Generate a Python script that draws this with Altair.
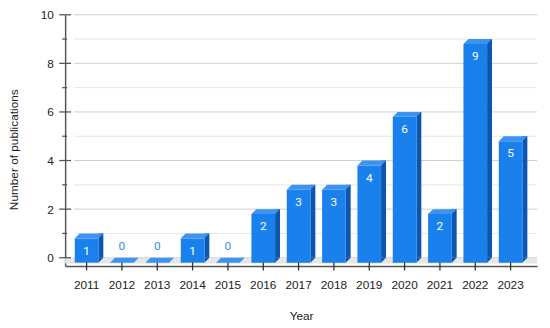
import altair as alt
import pandas as pd

years = ["2011", "2012", "2013", "2014", "2015", "2016", "2017",
         "2018", "2019", "2020", "2021", "2022", "2023"]
counts = [1, 0, 0, 1, 0, 2, 3, 3, 4, 6, 2, 9, 5]
major_ticks = [0, 2, 4, 6, 8, 10]
minor_ticks = [1, 3, 5, 7, 9]
grid_values = [0, 1, 2, 3, 4, 5, 6, 7, 8, 9, 10]

FRONT = "#1a80ec"
SIDE = "#0b57b0"
TOP = "#3c93f2"
ZERO_LABEL = "#3a8ee6"
AXIS = "#555555"
FONT = "Liberation Sans"

W = 479
H = 255

df = pd.DataFrame({"year": years, "count": counts})
df_grid = pd.DataFrame({"v": grid_values, "major": [v % 2 == 0 for v in grid_values]})
df_major = pd.DataFrame({"v": major_ticks})
df_minor = pd.DataFrame({"v": minor_ticks})

xscale = alt.Scale(paddingInner=0, paddingOuter=0.178, align=0.3)
yscale = alt.Scale(domain=[-0.34, 10], nice=False, zero=False)

xaxis = alt.Axis(labelAngle=0, ticks=False, tickSize=0, labelPadding=14,
                 domainColor=AXIS, domainWidth=1.5, labelFont=FONT,
                 labelFontSize=12, labelColor="#222222", title="Year",
                 titleFont=FONT, titleFontSize=12, titleFontWeight="normal",
                 titleColor="#222222", titleY=45, grid=False)
yaxis = alt.Axis(values=major_ticks, ticks=False, tickSize=0, labelPadding=12,
                 domainColor=AXIS, domainWidth=1.5, labelFont=FONT,
                 labelFontSize=12, labelColor="#222222", labelFlush=False,
                 title="Number of publications", titleFont=FONT,
                 titleFontSize=12, titleFontWeight="normal",
                 titleColor="#222222", titleX=-45, titleY=136.5, grid=False)


def xenc():
    return alt.X("year:N", sort=years, scale=xscale, axis=xaxis)


def yenc(field):
    return alt.Y(field, type="quantitative", scale=yscale, axis=yaxis)


grid = alt.Chart(df_grid).mark_rule(strokeWidth=1).encode(
    y=yenc("v"),
    x=alt.value(9), x2=alt.value(W),
    color=alt.condition("datum.major", alt.value("#cfcfcf"), alt.value("#e6e6e6")),
)

floor = alt.Chart(df_grid).transform_filter("datum.v == 0").mark_rect(color="#e6e6e6").encode(
    y=yenc("v"), y2=alt.datum(-0.24),
    x=alt.value(0), x2=alt.value(W),
)

ytick_major = alt.Chart(df_major).mark_rule(color=AXIS, strokeWidth=1.3).encode(
    y=yenc("v"), x=alt.value(-6), x2=alt.value(6),
)
ytick_minor = alt.Chart(df_minor).mark_rule(color=AXIS, strokeWidth=1.3).encode(
    y=yenc("v"), x=alt.value(-3), x2=alt.value(2),
)
xtick = alt.Chart(df).mark_rule(color="#333333", strokeWidth=1.3).encode(
    x=xenc(), y=alt.value(H - 4.5), y2=alt.value(H + 4.5),
)

nonzero = alt.Chart(df).transform_filter("datum.count > 0")

front = nonzero.mark_bar(color=FRONT, width=24, yOffset=5, y2Offset=5).encode(
    x=xenc(), y=yenc("count"), y2=alt.datum(0),
)
side = nonzero.mark_rule(color=SIDE, strokeWidth=5, xOffset=14.5).encode(
    x=xenc(), y=yenc("count"), y2=alt.datum(0),
)
side_bottom = nonzero.mark_point(shape="M12,0L17,0L12,5Z", size=4, filled=True,
                                 opacity=1, color=SIDE, strokeWidth=0).encode(
    x=xenc(), y=alt.datum(0),
)
top = alt.Chart(df).mark_point(shape="M-12,5L12,5L17,0L-7,0Z", size=4, filled=True,
                               opacity=1, color=TOP, strokeWidth=0).encode(
    x=xenc(), y=yenc("count"),
)
labels = nonzero.mark_text(dy=17.5, color="white", font="Roboto", fontSize=12,
                           baseline="middle").encode(
    x=xenc(), y=yenc("count"), text="count:Q",
)
zero_labels = alt.Chart(df).transform_filter("datum.count == 0").mark_text(
    dy=-12, color=ZERO_LABEL, font="Roboto", fontSize=12, baseline="middle").encode(
    x=xenc(), y=yenc("count"), text="count:Q",
)

chart = alt.layer(
    grid, floor, ytick_major, ytick_minor, xtick,
    side, side_bottom, front, top, labels, zero_labels,
).properties(
    width=W, height=H,
    autosize=alt.AutoSizeParams(type="none"),
    padding={"left": 58, "top": 4.5, "right": 5, "bottom": 55},
).configure_view(stroke=None)

chart.save("out.html", embed_options={"renderer": "svg", "actions": False})
